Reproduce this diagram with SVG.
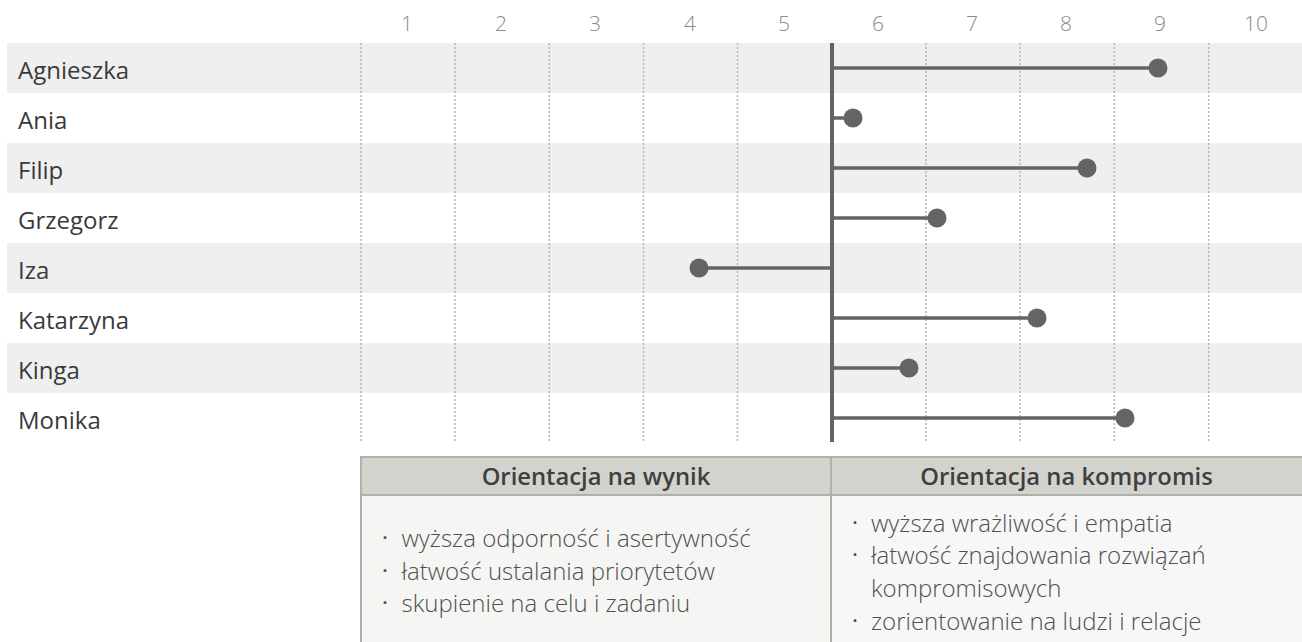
<svg xmlns="http://www.w3.org/2000/svg" width="1302" height="642" viewBox="0 0 1302 642">
<style>
.band{fill:#efefef}
.grid{stroke:#b8b8b8;stroke-width:1.6;stroke-dasharray:2 2}
.axis{font-family:"Open Sans","Liberation Sans",sans-serif;font-weight:300;font-size:21px;fill:#8a8a8a;text-anchor:middle}
.name{font-family:"Open Sans","Liberation Sans",sans-serif;font-size:24px;fill:#3a3a3a}
.conn{stroke:#646464;stroke-width:3.5;fill:none}
.dot{fill:#646464}
.hdr{fill:#d3d3cd;stroke:#b0b0aa;stroke-width:2}
.body{fill:#f5f6f4;stroke:#b0b0aa;stroke-width:2}
.bodyr{fill:#f7f7f7;stroke:#b0b0aa;stroke-width:2}
.htxt{font-family:"Open Sans","Liberation Sans",sans-serif;font-weight:600;font-size:23.8px;fill:#3f3f3f;text-anchor:middle}
.btxt{font-family:"Open Sans","Liberation Sans",sans-serif;font-weight:300;font-size:24px;fill:#505050}
.bul{font-family:"Open Sans","Liberation Sans",sans-serif;font-weight:600;font-size:20px;fill:#505050;text-anchor:middle}
</style>
<g id="bands">
<rect class="band" x="7" y="43" width="1295" height="50"/>
<rect class="band" x="7" y="143" width="1295" height="50"/>
<rect class="band" x="7" y="243" width="1295" height="50"/>
<rect class="band" x="7" y="343" width="1295" height="50"/>
</g>
<g id="axis">
<text class="axis" x="407" y="31">1</text>
<text class="axis" x="501" y="31">2</text>
<text class="axis" x="595" y="31">3</text>
<text class="axis" x="690" y="31">4</text>
<text class="axis" x="784" y="31">5</text>
<text class="axis" x="878" y="31">6</text>
<text class="axis" x="972" y="31">7</text>
<text class="axis" x="1066" y="31">8</text>
<text class="axis" x="1160" y="31">9</text>
<text class="axis" x="1256" y="31">10</text>
</g>
<g id="grid">
<line class="grid" x1="361" y1="43" x2="361" y2="441"/>
<line class="grid" x1="455" y1="43" x2="455" y2="441"/>
<line class="grid" x1="549.3" y1="43" x2="549.3" y2="441"/>
<line class="grid" x1="643.5" y1="43" x2="643.5" y2="441"/>
<line class="grid" x1="737.5" y1="43" x2="737.5" y2="441"/>
<line class="grid" x1="926" y1="43" x2="926" y2="441"/>
<line class="grid" x1="1020" y1="43" x2="1020" y2="441"/>
<line class="grid" x1="1114.3" y1="43" x2="1114.3" y2="441"/>
<line class="grid" x1="1208.7" y1="43" x2="1208.7" y2="441"/>
</g>
<g id="names">
<text class="name" x="18" y="79">Agnieszka</text>
<text class="name" x="18" y="129">Ania</text>
<text class="name" x="18" y="179">Filip</text>
<text class="name" x="18" y="229">Grzegorz</text>
<text class="name" x="18" y="279">Iza</text>
<text class="name" x="18" y="329">Katarzyna</text>
<text class="name" x="18" y="379">Kinga</text>
<text class="name" x="18" y="429">Monika</text>
</g>
<g id="connectors">
<line class="conn" x1="832" y1="68" x2="1158" y2="68"/>
<line class="conn" x1="832" y1="118" x2="853" y2="118"/>
<line class="conn" x1="832" y1="168" x2="1087" y2="168"/>
<line class="conn" x1="832" y1="218" x2="937" y2="218"/>
<line class="conn" x1="832" y1="268" x2="699" y2="268"/>
<line class="conn" x1="832" y1="318" x2="1037" y2="318"/>
<line class="conn" x1="832" y1="368" x2="909" y2="368"/>
<line class="conn" x1="832" y1="418" x2="1125" y2="418"/>
<line x1="832" y1="43" x2="832" y2="442" stroke="#646464" stroke-width="4"/>
</g>
<g id="dots">
<circle id="agnieszka" class="dot" cx="1158" cy="68" r="9.5"/>
<circle id="ania" class="dot" cx="853" cy="118" r="9.5"/>
<circle id="filip" class="dot" cx="1087" cy="168" r="9.5"/>
<circle id="grzegorz" class="dot" cx="937" cy="218" r="9.5"/>
<circle id="iza" class="dot" cx="699" cy="268" r="9.5"/>
<circle id="katarzyna" class="dot" cx="1037" cy="318" r="9.5"/>
<circle id="kinga" class="dot" cx="909" cy="368" r="9.5"/>
<circle id="monika" class="dot" cx="1125" cy="418" r="9.5"/>
</g>
<g id="table-left">
<rect class="body" x="361" y="495" width="470" height="160"/>
<rect class="hdr" x="361" y="457" width="470" height="38"/>
<text class="htxt" x="596" y="485">Orientacja na wynik</text>
<text class="bul" x="385" y="545">·</text>
<text class="btxt" x="401.5" y="547">wyższa odporność i asertywność</text>
<text class="bul" x="385" y="578">·</text>
<text class="btxt" x="401.5" y="580">łatwość ustalania priorytetów</text>
<text class="bul" x="385" y="610">·</text>
<text class="btxt" x="401.5" y="612">skupienie na celu i zadaniu</text>
</g>
<g id="table-right">
<rect class="bodyr" x="831" y="495" width="475" height="160"/>
<rect class="hdr" x="831" y="457" width="475" height="38"/>
<text class="htxt" x="1066.5" y="485">Orientacja na kompromis</text>
<text class="bul" x="855" y="530">·</text>
<text class="btxt" x="871" y="532">wyższa wrażliwość i empatia</text>
<text class="bul" x="855" y="562">·</text>
<text class="btxt" x="871" y="564">łatwość znajdowania rozwiązań</text>
<text class="btxt" x="871" y="597">kompromisowych</text>
<text class="bul" x="855" y="628">·</text>
<text class="btxt" x="871" y="630">zorientowanie na ludzi i relacje</text>
</g>
</svg>
